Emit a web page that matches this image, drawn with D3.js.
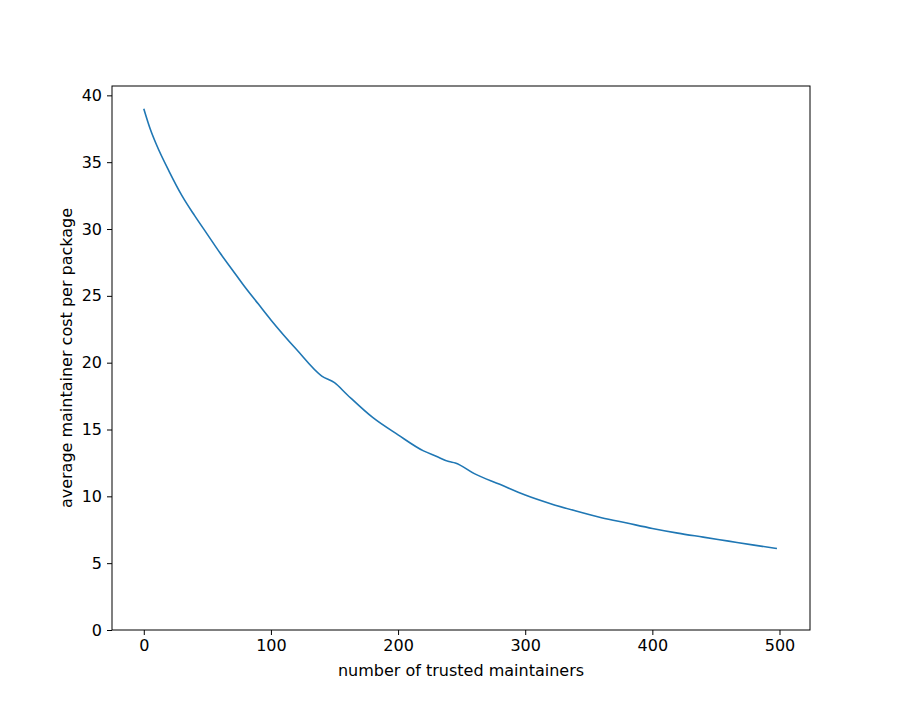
<!DOCTYPE html>
<html><head><meta charset="utf-8">
<script src="https://cdn.jsdelivr.net/npm/d3@7"></script>
<style>body{margin:0;background:#fff}text{font-family:"DejaVu Sans",sans-serif}</style>
</head><body><svg id="c" width="900" height="720"></svg>
<script>
const xs=[0,5,10,20,30,40,50,60,70,80,90,100,120,140,150,160,180,200,220,230,240,245,260,280,300,320,340,360,380,400,420,440,460,480,498];
const ys=[39,37.5,36.3,34.3,32.5,31,29.6,28.2,26.9,25.6,24.4,23.2,21,19,18.5,17.6,15.9,14.6,13.4,13.0,12.6,12.5,11.7,10.9,10.1,9.45,8.9,8.4,8.0,7.6,7.25,6.95,6.65,6.35,6.1];
const xTicks=[0,100,200,300,400,500], yTicks=[0,5,10,15,20,25,30,35,40];
const svg=d3.select("#c");
const L=112,R=810,T=86,B=630;
const x=d3.scaleLinear().domain([-25,524]).range([L,R]);
const y=d3.scaleLinear().domain([0,40.7]).range([B,T]);
const gx=svg.append("g").attr("transform",`translate(0,${B})`).call(d3.axisBottom(x).tickValues(xTicks).tickSize(5).tickPadding(5));
const gy=svg.append("g").attr("transform",`translate(${L},0)`).call(d3.axisLeft(y).tickValues(yTicks).tickSize(5).tickPadding(5));
[gx,gy].forEach(g=>{g.select(".domain").remove();g.selectAll("text").attr("font-size",16).attr("fill","#000").style("font-family","DejaVu Sans");g.selectAll("line").attr("stroke","#000");});
svg.append("rect").attr("x",L).attr("y",T).attr("width",R-L).attr("height",B-T).attr("fill","none").attr("stroke","#000");
svg.append("path").datum(xs.map((d,i)=>[d,ys[i]])).attr("fill","none").attr("stroke","#1f77b4").attr("stroke-width",1.6)
 .attr("d",d3.line().x(d=>x(d[0])).y(d=>y(d[1])).curve(d3.curveMonotoneX));
svg.append("text").attr("x",(L+R)/2).attr("y",676).attr("text-anchor","middle").attr("font-size",16).text("number of trusted maintainers");
svg.append("text").attr("transform",`translate(72,${(T+B)/2}) rotate(-90)`).attr("text-anchor","middle").attr("font-size",16).text("average maintainer cost per package");
</script></body></html>
